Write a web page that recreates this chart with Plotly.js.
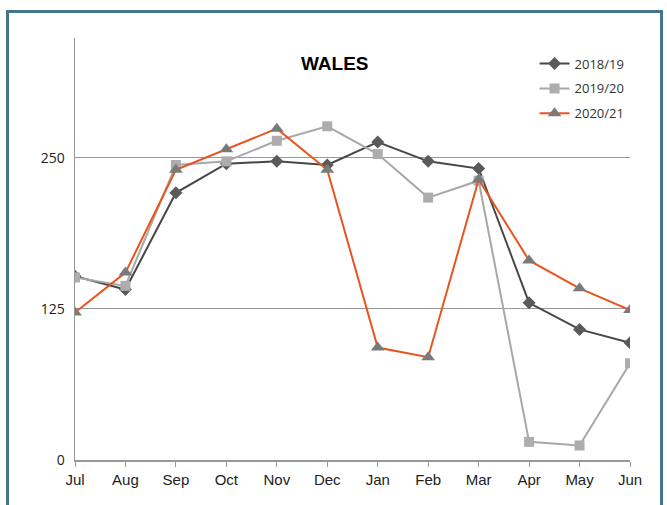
<!DOCTYPE html>
<html><head><meta charset="utf-8">
<script src="https://cdn.plot.ly/plotly-3.0.1.min.js"></script>
<style>
html,body{margin:0;padding:0;background:#fff;overflow:hidden}
#chart{width:667px;height:505px}
#frame{position:absolute;left:6px;top:10px;width:651px;height:520px;border:3px solid #44748f;pointer-events:none}
</style></head>
<body>
<div id="chart"></div>
<div id="frame"></div>
<script>
const months = ["Jul","Aug","Sep","Oct","Nov","Dec","Jan","Feb","Mar","Apr","May","Jun"];
const s1819 = [152,141,221,245,247,244,263,247,241,130,108,97];
const s1920 = [151,144,244,247,264,276,253,217,231,15,12,80];
const s2021 = [122,155,240,257,274,240,93,85,232,165,142,124];
const yTicks = [0,125,250];

const traces = [
 {x:months,y:s1819,name:"2018/19",legendgroup:"a",type:"scatter",mode:"lines+markers",
  line:{color:"#474747",width:2},marker:{symbol:"diamond",size:10,color:"#5a5a5a"}},
 {x:months,y:s1920,name:"2019/20",legendgroup:"b",type:"scatter",mode:"lines+markers",
  line:{color:"#a8a8a8",width:2},marker:{symbol:"square",size:10,color:"#adadad"}},
 {x:months,y:s2021,name:"2020/21",legendgroup:"c",type:"scatter",mode:"lines+markers",
  line:{color:"#e8541e",width:2},marker:{symbol:"triangle-up",size:12,color:"#7a7a7a"}}
];
const layout = {
 width:667,height:505,
 margin:{l:75,r:37,t:38,b:45},
 paper_bgcolor:"#fff",plot_bgcolor:"#fff",
 showlegend:true,
 title:{text:"<b>WALES</b>",x:0.468,xref:"paper",xanchor:"center",y:0.875,yref:"container",yanchor:"middle",
   font:{family:"Liberation Sans, Arial, sans-serif",size:19,color:"#000"}},
 legend:{x:0.828,y:0.975,xanchor:"left",yanchor:"top",bgcolor:"rgba(0,0,0,0)",
   traceorder:"grouped",tracegroupgap:5,
   font:{family:"Open Sans, sans-serif",size:13,color:"#333"},itemwidth:30},
 xaxis:{type:"category",range:[0,11],showgrid:false,showline:true,linecolor:"#999",linewidth:1.5,
   ticks:"outside",ticklen:5,tickcolor:"#999",zeroline:false,
   tickfont:{family:"Liberation Sans Narrow, Arial Narrow, sans-serif",size:15,color:"#222"}},
 yaxis:{range:[0,349],tickvals:yTicks,ticktext:yTicks.map(String),showgrid:true,gridcolor:"#999",gridwidth:1.2,
   showline:true,linecolor:"#999",linewidth:1.5,zeroline:false,ticks:"",ticklabelstandoff:6,
   tickfont:{family:"Open Sans, sans-serif",size:14,color:"#222"}}
};
Plotly.newPlot("chart",traces,layout,{displayModeBar:false,staticPlot:true});
</script>
</body></html>
